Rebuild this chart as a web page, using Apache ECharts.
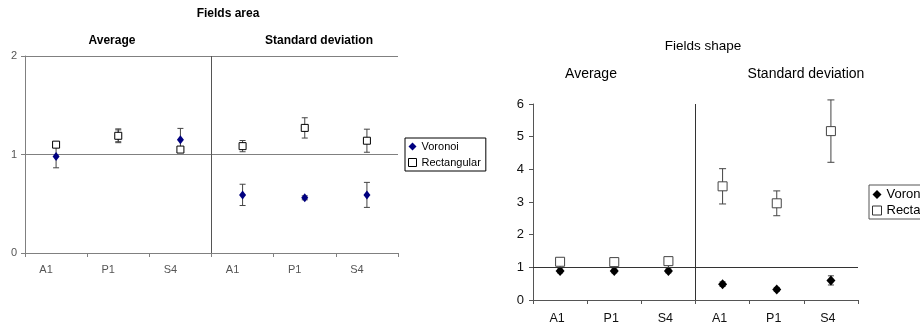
<!DOCTYPE html>
<html>
<head>
<meta charset="utf-8">
<script src="https://cdn.jsdelivr.net/npm/echarts@6/dist/echarts.min.js"></script>
<style>
html,body{margin:0;padding:0;background:#fff;}
#c{width:920px;height:325px;}
</style>
</head>
<body>
<div id="c"></div>
<script>
// ---- data ----
var categories = ['A1', 'P1', 'S4', 'A1', 'P1', 'S4'];
var areaTicks = [0, 1, 2];
var shapeTicks = [0, 1, 2, 3, 4, 5, 6];

var areaVoronoi = [0.98, 1.19, 1.15, 0.59, 0.56, 0.59];
var areaVoronoiErr = [0.115, 0.06, 0.115, 0.108, 0.02, 0.127];
var areaRect = [1.10, 1.19, 1.05, 1.085, 1.27, 1.14];
var areaRectErr = [0.02, 0.07, 0.02, 0.057, 0.103, 0.117];

var shapeVoronoi = [0.89, 0.89, 0.89, 0.485, 0.325, 0.60];
var shapeVoronoiErr = [0.06, 0.06, 0.06, 0.07, 0.06, 0.14];
var shapeRect = [1.17, 1.16, 1.19, 3.48, 2.96, 5.17];
var shapeRectErr = [0.05, 0.05, 0.05, 0.54, 0.38, 0.955];

var FONT = 'Liberation Sans, Arial, sans-serif';

function pts(vals) { return vals.map(function (v, i) { return [i, v]; }); }
function errs(vals, e) { return vals.map(function (v, i) { return [i, v - e[i], v + e[i]]; }); }

function errRender(color, hw) {
  return function (params, api) {
    var x = api.value(0), lo = api.value(1), hi = api.value(2);
    var p1 = api.coord([x, lo]), p2 = api.coord([x, hi]);
    var st = { stroke: color, lineWidth: 1 };
    return {
      type: 'group',
      children: [
        { type: 'line', shape: { x1: p1[0], y1: p1[1], x2: p2[0], y2: p2[1] }, style: st },
        { type: 'line', shape: { x1: p1[0] - hw, y1: p1[1], x2: p1[0] + hw, y2: p1[1] }, style: st },
        { type: 'line', shape: { x1: p2[0] - hw, y1: p2[1], x2: p2[0] + hw, y2: p2[1] }, style: st }
      ]
    };
  };
}

var chart = echarts.init(document.getElementById('c'), null, { renderer: 'canvas' });

var leftAxisColor = '#808080';
var rightAxisColor = '#555555';

var option = {
  backgroundColor: '#ffffff',
  animation: false,
  textStyle: { fontFamily: FONT },
  grid: [
    { left: 25, top: 56, width: 373, height: 197 },
    { left: 533, top: 104, width: 325, height: 198 }
  ],
  xAxis: [
    {
      type: 'category', gridIndex: 0, data: categories, boundaryGap: true,
      axisLine: { onZero: false, lineStyle: { color: leftAxisColor } },
      axisTick: { show: true, length: 4, alignWithLabel: false, lineStyle: { color: leftAxisColor } },
      axisLabel: { fontSize: 11, color: '#555', margin: 11, padding: [0, 20, 0, 0], interval: 0, fontFamily: FONT }
    },
    { type: 'value', gridIndex: 0, min: -0.5, max: 5.5, show: false },
    {
      type: 'category', gridIndex: 1, data: categories, boundaryGap: true,
      axisLine: { onZero: false, lineStyle: { color: rightAxisColor } },
      axisTick: { show: true, length: 4, alignWithLabel: false, lineStyle: { color: rightAxisColor } },
      axisLabel: { fontSize: 12.5, color: '#111', margin: 12, padding: [0, 6, 0, 0], interval: 0, fontFamily: FONT }
    },
    { type: 'value', gridIndex: 1, min: -0.5, max: 5.5, show: false }
  ],
  yAxis: [
    {
      type: 'value', gridIndex: 0, min: areaTicks[0], max: areaTicks[areaTicks.length - 1], interval: 1,
      axisLine: { show: true, onZero: false, lineStyle: { color: leftAxisColor } },
      axisTick: { show: true, length: 4, lineStyle: { color: leftAxisColor } },
      axisLabel: { fontSize: 11, color: '#555', margin: 8, fontFamily: FONT },
      splitLine: { show: true, lineStyle: { color: leftAxisColor, width: 1 } }
    },
    {
      type: 'value', gridIndex: 1, min: shapeTicks[0], max: shapeTicks[shapeTicks.length - 1], interval: 1,
      axisLine: { show: true, onZero: false, lineStyle: { color: rightAxisColor } },
      axisTick: { show: true, length: 4, lineStyle: { color: rightAxisColor } },
      axisLabel: { fontSize: 13, color: '#111', margin: 9, fontFamily: FONT },
      splitLine: { show: false }
    }
  ],
  legend: [
    {
      orient: 'vertical', left: 405, top: 138,
      borderColor: '#000', borderWidth: 1, padding: [3, 5, 3, 3],
      itemWidth: 8, itemHeight: 8, itemGap: 5, itemTextGap: 3,
      textStyle: { fontSize: 11, color: '#000', fontFamily: FONT },
      selectedMode: false,
      data: [
        { name: 'Voronoi', icon: 'diamond', itemStyle: { color: '#000080', borderWidth: 0 } },
        { name: 'Rectangular', icon: 'rect', itemStyle: { color: '#fff', borderColor: '#000', borderWidth: 1 } }
      ]
    },
    {
      orient: 'vertical', left: 869, top: 185,
      borderColor: '#555', borderWidth: 1, padding: [3, 5, 2, 3],
      itemWidth: 9, itemHeight: 9, itemGap: 3, itemTextGap: 4,
      textStyle: { fontSize: 13, color: '#000', fontFamily: FONT },
      selectedMode: false,
      data: [
        { name: 'Voronoi', icon: 'diamond', itemStyle: { color: '#000', borderWidth: 0 } },
        { name: 'Rectangular', icon: 'rect', itemStyle: { color: '#fff', borderColor: '#333', borderWidth: 1 } }
      ]
    }
  ],
  graphic: [
    { type: 'text', x: 228, y: 14, style: { text: 'Fields area', font: 'bold 12px ' + FONT, fill: '#000', align: 'center', verticalAlign: 'middle' } },
    { type: 'text', x: 112, y: 41, style: { text: 'Average', font: 'bold 12px ' + FONT, fill: '#000', align: 'center', verticalAlign: 'middle' } },
    { type: 'text', x: 319, y: 41, style: { text: 'Standard deviation', font: 'bold 12px ' + FONT, fill: '#000', align: 'center', verticalAlign: 'middle' } },
    { type: 'text', x: 703, y: 46, style: { text: 'Fields shape', font: '13.5px ' + FONT, fill: '#000', align: 'center', verticalAlign: 'middle' } },
    { type: 'text', x: 591, y: 74, style: { text: 'Average', font: '14px ' + FONT, fill: '#000', align: 'center', verticalAlign: 'middle' } },
    { type: 'text', x: 806, y: 74, style: { text: 'Standard deviation', font: '14px ' + FONT, fill: '#000', align: 'center', verticalAlign: 'middle' } }
  ],
  series: [
    // ---- left chart: Fields area ----
    {
      name: 'Voronoi-err-area', type: 'custom', xAxisIndex: 1, yAxisIndex: 0, z: 2,
      renderItem: errRender('#444', 3), data: errs(areaVoronoi, areaVoronoiErr),
      markLine: {
        silent: true, symbol: 'none', label: { show: false },
        lineStyle: { color: '#555', width: 1, type: 'solid' },
        data: [{ xAxis: 2.5 }]
      }
    },
    {
      name: 'Voronoi', type: 'scatter', xAxisIndex: 1, yAxisIndex: 0, z: 3,
      symbol: 'diamond', symbolSize: [7, 9],
      itemStyle: { color: '#000080', opacity: 1 },
      data: pts(areaVoronoi)
    },
    {
      name: 'Rectangular-err-area', type: 'custom', xAxisIndex: 1, yAxisIndex: 0, z: 4,
      renderItem: errRender('#444', 3), data: errs(areaRect, areaRectErr)
    },
    {
      name: 'Rectangular', type: 'scatter', xAxisIndex: 1, yAxisIndex: 0, z: 5,
      symbol: 'rect', symbolSize: 7,
      itemStyle: { color: '#fff', borderColor: '#000', borderWidth: 1, opacity: 1 },
      data: pts(areaRect)
    },
    // ---- right chart: Fields shape ----
    {
      name: 'Voronoi-err-shape', type: 'custom', xAxisIndex: 3, yAxisIndex: 1, z: 2,
      renderItem: errRender('#444', 3), data: errs(shapeVoronoi, shapeVoronoiErr),
      markLine: {
        silent: true, symbol: 'none', label: { show: false },
        lineStyle: { color: '#333', width: 1, type: 'solid' },
        data: [{ xAxis: 2.5 }, { yAxis: 1 }]
      }
    },
    {
      name: 'Voronoi', type: 'scatter', xAxisIndex: 3, yAxisIndex: 1, z: 3,
      symbol: 'diamond', symbolSize: [9, 10],
      itemStyle: { color: '#000', opacity: 1 },
      data: pts(shapeVoronoi)
    },
    {
      name: 'Rectangular-err-shape', type: 'custom', xAxisIndex: 3, yAxisIndex: 1, z: 4,
      renderItem: errRender('#444', 3.5), data: errs(shapeRect, shapeRectErr)
    },
    {
      name: 'Rectangular', type: 'scatter', xAxisIndex: 3, yAxisIndex: 1, z: 5,
      symbol: 'rect', symbolSize: 9,
      itemStyle: { color: '#fff', borderColor: '#444', borderWidth: 1, opacity: 1 },
      data: pts(shapeRect)
    }
  ]
};
chart.setOption(option);
</script>
</body>
</html>
